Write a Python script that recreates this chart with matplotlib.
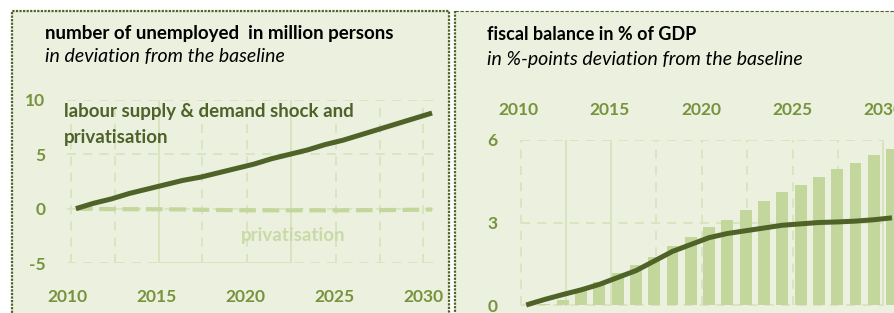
import matplotlib
matplotlib.use("Agg")
import matplotlib.pyplot as plt
from matplotlib.patches import Rectangle
from matplotlib.lines import Line2D

plt.rcParams['font.family'] = ['Lato', 'DejaVu Sans']

# ---- data ----
years = list(range(2010, 2031))

unemp_shock_priv = [0.0, 0.5, 0.9, 1.4, 1.8, 2.2, 2.6, 2.9, 3.3, 3.7, 4.1,
                    4.6, 5.0, 5.4, 5.9, 6.3, 6.8, 7.3, 7.8, 8.3, 8.8]
unemp_priv = [0.0, -0.02, -0.04, -0.05, -0.05, -0.06, -0.07, -0.1, -0.12, -0.14, -0.15,
              -0.15, -0.15, -0.15, -0.15, -0.15, -0.14, -0.13, -0.12, -0.1, -0.08]

bar_years = list(range(2011, 2031))
fiscal_bars = [0.05, 0.2, 0.5, 0.85, 1.15, 1.46, 1.76, 2.15, 2.46, 2.82,
               3.1, 3.47, 3.77, 4.1, 4.38, 4.65, 4.93, 5.16, 5.45, 5.66]
fiscal_line = [0.0, 0.2, 0.38, 0.55, 0.75, 1.0, 1.25, 1.6, 1.95, 2.2, 2.45,
               2.6, 2.7, 2.8, 2.9, 2.95, 3.0, 3.02, 3.05, 3.1, 3.17]

tick_years = [2010, 2015, 2020, 2025, 2030]
left_yticks = [-5, 0, 5, 10]
right_yticks = [0, 3, 6]

# ---- colours ----
PANEL = '#EBF0DF'
BORDER = '#4F6228'
DARK = '#4F6228'
TICK = '#77933C'
BAR = '#C3D69B'
GRID = '#D7E4BD'
LIGHTTXT = '#C9DAA6'

W, H = 895, 313
fig = plt.figure(figsize=(W / 100, H / 100), dpi=100)
fig.patch.set_facecolor('white')


def fx(x):
    return x / W


def fy(y):
    return 1 - y / H


def px_axes(l, t, r, b):
    ax = fig.add_axes([fx(l), fy(b), (r - l) / W, (b - t) / H])
    ax.set_facecolor('none')
    ax.set_zorder(2)
    for s in ax.spines.values():
        s.set_visible(False)
    return ax


def ftext(x, y, s, **kw):
    fig.text(fx(x), fy(y), s, transform=fig.transFigure, zorder=5, **kw)


# panels
fig.patches.append(Rectangle((fx(12), fy(320)), (449 - 12) / W, (320 - 11) / H,
                             transform=fig.transFigure, facecolor=PANEL,
                             edgecolor=BORDER, lw=1.6, linestyle=(0, (1, 0.6)), zorder=-1))
fig.patches.append(Rectangle((fx(455), fy(320)), (910 - 455) / W, (320 - 11) / H,
                             transform=fig.transFigure, facecolor=PANEL,
                             edgecolor='none', zorder=-1))
fig.lines.append(Line2D([fx(455), fx(895)], [fy(11), fy(11)], transform=fig.transFigure,
                        color=BORDER, lw=0.8, linestyle=(0, (3, 1.5)), zorder=1))
fig.lines.append(Line2D([fx(455), fx(455)], [fy(11), fy(313)], transform=fig.transFigure,
                        color=BORDER, lw=1.6, linestyle=(0, (1, 0.6)), zorder=1))

grid_x = [2009.73, 2012.17, 2014.66, 2017.1, 2019.6, 2022.09, 2024.58, 2027.07, 2029.51]
dash = (0, (5, 4))

# ---- left: unemployed ----
ax1 = px_axes(67, 100, 437, 263)
ax1.set_xlim(2010 + (67 - 72) / 18, 2010 + (437 - 72) / 18)
ax1.set_ylim(-5, 10)
for y in left_yticks:
    ax1.axhline(y, color=GRID, lw=1.3, linestyle=dash, zorder=1)
for i, x in enumerate(grid_x):
    if i in (2, 5):
        ax1.axvline(x, color=GRID, lw=1.4, zorder=1)
    else:
        ax1.axvline(x, color=GRID, lw=1.3, linestyle=dash, zorder=1)
ax1.plot([grid_x[2], grid_x[5]], [-5, -5], color=GRID, lw=1.4, zorder=1)
ax1.plot(years, unemp_priv, color=BAR, lw=3.0, linestyle=(0, (4, 1.6)), zorder=2)
ax1.plot(years, unemp_shock_priv, color=DARK, lw=3.6, solid_capstyle='butt', zorder=3)
ax1.set_xticks([y - 0.5 for y in tick_years])
ax1.set_xticklabels([str(y) for y in tick_years])
ax1.set_yticks(left_yticks)
ax1.set_yticklabels([str(y) for y in left_yticks])
ax1.tick_params(axis='x', length=0, pad=19, labelsize=12.5, labelcolor=TICK)
ax1.tick_params(axis='y', length=0, pad=15.5, labelsize=12.5, labelcolor=TICK)
for lab in ax1.get_xticklabels() + ax1.get_yticklabels():
    lab.set_fontweight('bold')

ftext(45, 33, 'number of unemployed  in million persons', fontsize=13.5,
      fontweight='bold', color='black', va='center')
ftext(45, 57, 'in deviation from the baseline', fontsize=14,
      style='italic', color='black', va='center')
ftext(64, 111, 'labour supply & demand shock and', fontsize=13.5,
      fontweight='bold', color=DARK, va='center')
ftext(64, 137, 'privatisation', fontsize=13.5,
      fontweight='bold', color=DARK, va='center')
ftext(241, 235, 'privatisation', fontsize=13.5,
      fontweight='bold', color=LIGHTTXT, va='center')

# ---- right: fiscal balance ----
ax2 = px_axes(518, 140, 895, 313)
ax2.set_xlim(2010 + (518 - 523) / 18.45, 2010 + (895 - 523) / 18.45)
ax2.set_ylim(-8 / 27.5, 6)
for y in right_yticks:
    ax2.plot([grid_x[0], grid_x[-1]], [y, y], color=GRID, lw=1.3, linestyle=dash, zorder=1)
for i, x in enumerate(grid_x):
    if i in (1, 2, 8):
        ax2.plot([x, x], [0, 6], color=GRID, lw=1.4, zorder=1)
    else:
        ax2.plot([x, x], [0, 6], color=GRID, lw=1.3, linestyle=dash, zorder=1)
ax2.bar(bar_years, fiscal_bars, width=0.65, color=BAR, zorder=2)
ax2.plot(years, fiscal_line, color=DARK, lw=3.6, solid_capstyle='butt', zorder=3)
ax2.xaxis.tick_top()
ax2.set_xticks([y - 0.45 for y in tick_years])
ax2.set_xticklabels([str(y) for y in tick_years])
ax2.set_yticks(right_yticks)
ax2.set_yticklabels([str(y) for y in right_yticks])
ax2.tick_params(axis='x', length=0, pad=16, labelsize=12.5, labelcolor=TICK)
ax2.tick_params(axis='y', length=0, pad=15, labelsize=12.5, labelcolor=TICK)
for lab in ax2.get_xticklabels() + ax2.get_yticklabels():
    lab.set_fontweight('bold')

ftext(487, 35, 'fiscal balance in % of GDP', fontsize=13,
      fontweight='bold', color='black', va='center')
ftext(487, 59, 'in %-points deviation from the baseline', fontsize=14,
      style='italic', color='black', va='center')

fig.savefig('out.png', dpi=100)
